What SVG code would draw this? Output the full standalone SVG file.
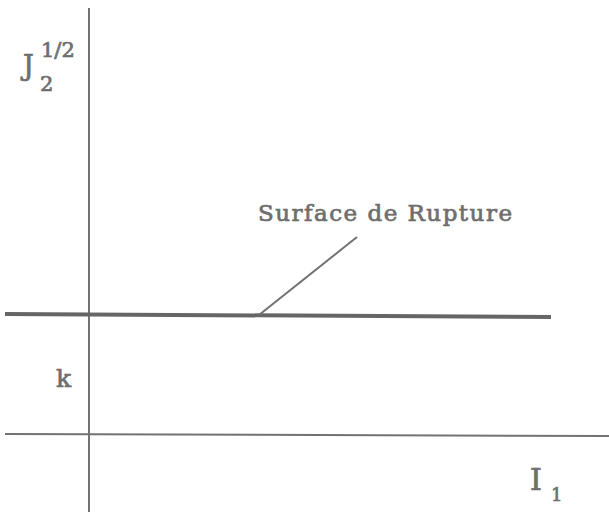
<svg xmlns="http://www.w3.org/2000/svg" width="609" height="515" viewBox="0 0 609 515">
<style>
.ax{stroke:#727272;stroke-width:2;fill:none}
.t{font-family:"DejaVu Serif","Liberation Serif",serif;fill:#6e6e6e;stroke:#6e6e6e;stroke-width:0.7}
</style>
<rect width="609" height="515" fill="#fff"/>
<g id="axes">
<line class="ax" x1="89" y1="8" x2="89" y2="512"/>
<line class="ax" x1="5" y1="434" x2="609" y2="436"/>
</g>
<g id="surface">
<line x1="5" y1="314" x2="551" y2="317" stroke="#666" stroke-width="4"/>
</g>
<g id="connectors">
<line class="ax" x1="259" y1="315" x2="357" y2="237"/>
</g>
<g id="labels">
<text class="t" x="258" y="221" font-size="23" textLength="254" lengthAdjust="spacing">Surface de Rupture</text>
<text class="t" x="23" y="75" font-size="27">J</text>
<text class="t" x="40" y="91" font-size="21">2</text>
<text class="t" x="41" y="57" font-size="21">1/2</text>
<text class="t" x="56" y="387" font-size="25">k</text>
<text class="t" x="530" y="490" font-size="30">I</text>
<text class="t" x="551" y="501" font-size="18">1</text>
</g>
</svg>
